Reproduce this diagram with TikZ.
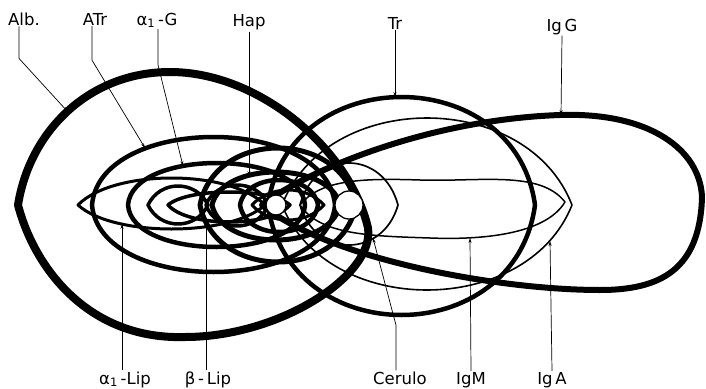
\documentclass[tikz,border=0pt]{standalone}
\usepackage{fontspec}
\setmainfont{DejaVu Sans}
\usetikzlibrary{arrows.meta}
% closed precipitin arc on the trough axis (y=205)
\newcommand{\lensarc}[6]{%
  \draw[line width=#1] (#2,205) .. controls ({#2+#6},{205-(205-#4)*4/3}) and ({#3-#6},{205-(205-#4)*4/3}) .. (#3,205)
    .. controls ({#3-#6},{205+(#5-205)*4/3}) and ({#2+#6},{205+(#5-205)*4/3}) .. cycle;}
\begin{document}
\begin{tikzpicture}[x=1pt, y=-1pt, line join=round,
    lbl/.style={font=\fontsize{16.5}{16.5}\selectfont, inner sep=1pt, anchor=base},
    ptr/.style={-{Stealth[length=5pt,width=3pt]}, line width=0.7pt}]
\useasboundingbox (0,0) rectangle (706,388);

% Alb. and IgG
\draw[line width=8pt] (18,205) .. controls (30,130) and (90,72) .. (170,72)
    .. controls (260,72) and (350,150) .. (368,228)
    .. controls (375,275) and (280,337) .. (185,337)
    .. controls (90,340) and (35,270) .. cycle;
\draw[line width=6pt] (262,205) .. controls (300,175) and (420,120) .. (560,115)
    .. controls (650,112) and (700,150) .. (702,197)
    .. controls (700,270) and (660,290) .. (600,290)
    .. controls (500,290) and (330,260) .. cycle;

% left group
\lensarc{4.5pt}{92}{335}{137}{272}{8}      % ATr
\lensarc{4.5pt}{128}{305}{163}{247}{4}     % alpha1-G
\lensarc{3pt}{78}{265}{178}{229}{35}       % alpha1-Lip
\lensarc{3.5pt}{148}{208}{186}{224}{12}
\lensarc{3.5pt}{206}{268}{185}{226}{10}
\lensarc{3.5pt}{168}{290}{192}{222}{20}    % beta-Lip

% middle group
\lensarc{5pt}{200}{356}{148}{262}{15}
\lensarc{5pt}{212}{340}{172}{240}{10}      % Hap
\lensarc{4.5pt}{240}{318}{180}{232}{6}
\lensarc{3pt}{252}{324}{190}{220}{18}

% right group
\lensarc{4.5pt}{268}{535}{97}{315}{20}     % Tr
\lensarc{1.7pt}{300}{398}{163}{245}{15}    % Cerulo
\lensarc{1.6pt}{282}{572}{118}{290}{45}    % IgA
\draw[line width=1.5pt] (300,205) .. controls (320,180) and (360,178) .. (420,180)
    .. controls (480,182) and (540,170) .. (565,202)
    .. controls (545,235) and (480,240) .. (430,238)
    .. controls (370,236) and (320,235) .. cycle;  % IgM

% wells
\draw[line width=1.3pt, fill=white] (276,205) circle (10);
\draw[line width=1.3pt, fill=white] (349,205) circle (14);

% labels
\node[lbl] (lAlb) at (24,25) {Alb.};
\node[lbl] (lATr) at (95,25) {ATr};
\node[lbl] (lAG) at (157,25) {α\textsubscript{1}\,-G};
\node[lbl] (lHap) at (249,27) {Hap};
\node[lbl] (lTr) at (395,29) {Tr};
\node[lbl] (lIgG) at (562,31) {Ig\,G};
\node[lbl] (lALip) at (125,384) {α\textsubscript{1}\,-Lip};
\node[lbl] (lBLip) at (208,384) {β\,-\,Lip};
\node[lbl] (lCer) at (400,384) {Cerulo};
\node[lbl] (lIgM) at (471,384) {IgM};
\node[lbl] (lIgA) at (552,384) {Ig\,A};

\coordinate (tAlb) at (68,112);
\coordinate (tATr) at (145,148);
\coordinate (tAG) at (183,166);
\coordinate (tHap) at (249,176);
\coordinate (tTr) at (395,97);
\coordinate (tIgG) at (561,115);
\coordinate (tALip) at (122,224);
\coordinate (tBLip) at (206,221);
\coordinate (tCer) at (373,238);
\coordinate (tIgM) at (470,238);
\coordinate (tIgA) at (550,241);

% pointers
\draw[ptr] ([xshift=-5pt]lAlb.south) -- ++(0,32) -- (tAlb);
\draw[ptr] ([xshift=-3pt]lATr.south) -- ++(0,34) -- (tATr);
\draw[ptr] ([xshift=1pt]lAG.south) -- ++(0,36) -- (tAG);
\draw[ptr] (lHap.south) -- (tHap);
\draw[ptr] (lTr.south) -- (tTr);
\draw[ptr] (lIgG.south) -- (tIgG);
\draw[ptr] ([xshift=-3pt]lALip.north) -- (tALip);
\draw[ptr] ([xshift=-2pt]lBLip.north) -- (tBLip);
\draw[ptr] ([xshift=-4pt]lCer.north) -- ++(0,-45) -- (tCer);
\draw[ptr] (lIgM.north) -- (tIgM);
\draw[ptr] (lIgA.north) -- (tIgA);
\end{tikzpicture}
\end{document}
